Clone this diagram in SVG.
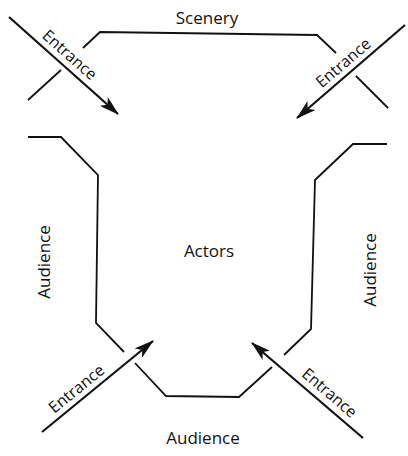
<svg xmlns="http://www.w3.org/2000/svg" width="408" height="456" viewBox="0 0 408 456">
<style>
.w{fill:none;stroke:#111;stroke-width:1.8;stroke-linejoin:miter}
.a{fill:none;stroke:#111;stroke-width:2.2}
text{font-family:"Open Sans","Noto Sans",sans-serif;font-size:17px;fill:#111;text-anchor:middle}
text.e{font-size:16px}
</style>
<defs>
<marker id="ah" viewBox="0 0 20 12" refX="19" refY="6" markerWidth="20" markerHeight="12" markerUnits="userSpaceOnUse" orient="auto">
<path d="M0,0 L20,6 L0,12 L5,6 Z" fill="#111"/>
</marker>
</defs>
<rect width="408" height="456" fill="#fff"/>
<g id="scenery">
<polyline class="w" points="83,48 100,32 317,35 336,53"/>
<text x="207" y="24">Scenery</text>
</g>
<g id="left-audience">
<polyline class="w" points="28,100 61,70"/>
<polyline class="w" points="28,137 61,137 98,175 96,323 124,352"/>
<text transform="translate(50,262) rotate(-90)">Audience</text>
</g>
<g id="right-audience">
<polyline class="w" points="356,76 388,108"/>
<polyline class="w" points="284,355 311,329 315,180 353,144 387,144"/>
<text transform="translate(376,270) rotate(-90)">Audience</text>
</g>
<g id="bottom-audience">
<polyline class="w" points="135,363 166,396 239,397 272,367"/>
<text x="203" y="444">Audience</text>
</g>
<g id="actors">
<text x="209" y="257">Actors</text>
</g>
<g id="connectors">
<line class="a" x1="9" y1="17" x2="118" y2="114" marker-end="url(#ah)"/>
<line class="a" x1="405" y1="25" x2="297" y2="118" marker-end="url(#ah)"/>
<line class="a" x1="42" y1="432" x2="153" y2="341" marker-end="url(#ah)"/>
<line class="a" x1="363" y1="438" x2="252" y2="343" marker-end="url(#ah)"/>
</g>
<g id="entrance-labels">
<text class="e" transform="translate(66,59) rotate(41.4)">Entrance</text>
<text class="e" transform="translate(347,67) rotate(-40.7)">Entrance</text>
<text class="e" transform="translate(80,393) rotate(-39.3)">Entrance</text>
<text class="e" transform="translate(326,397) rotate(40.6)">Entrance</text>
</g>
</svg>
